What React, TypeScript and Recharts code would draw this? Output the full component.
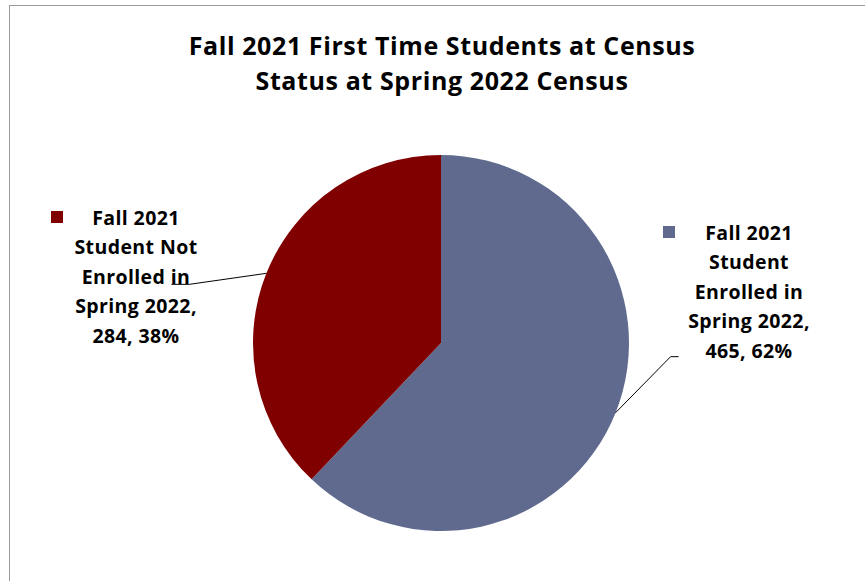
import React from "react";
import { PieChart, Pie, Cell } from "recharts";

const categories = [
  "Fall 2021 Student Enrolled in Spring 2022",
  "Fall 2021 Student Not Enrolled in Spring 2022",
];
const counts = [465, 284];
const labelLines = [
  ["Fall 2021", "Student", "Enrolled in", "Spring 2022,"],
  ["Fall 2021", "Student Not", "Enrolled in", "Spring 2022,"],
];
const titleLines = [
  "Fall 2021 First Time Students at Census",
  "Status at Spring 2022 Census",
];

const COLORS = ["#5F6A8E", "#800000"];
const FONT = "'Open Sans', 'Noto Sans', sans-serif";
const RAD = Math.PI / 180;

const data = categories.map((name, i) => ({ name, value: counts[i] }));
const total = counts.reduce((a, b) => a + b, 0);

const polar = (cx: number, cy: number, r: number, angle: number) => ({
  x: cx + r * Math.cos(-angle * RAD),
  y: cy + r * Math.sin(-angle * RAD),
});

// block placement for each label, relative to pie centre
const BLOCKS = [
  { dx: 308, dy: -111, sq: 86, line: [55, -56, 8] },
  { dx: -305, dy: -126, sq: 85, line: [-77, 11, -18] },
];

const renderLabel = (props: any) => {
  const { cx, cy, midAngle, outerRadius, index, value } = props;
  const b = BLOCKS[index];
  const bx = cx + b.dx;
  const by = cy + b.dy;
  const lines = [
    ...labelLines[index],
    `${value}, ${Math.round((value / total) * 100)}%`,
  ];
  const a = polar(cx, cy, outerRadius, midAngle);
  const bend = { x: a.x + b.line[0], y: a.y + b.line[1] };
  const end = { x: bend.x + b.line[2], y: bend.y };
  return (
    <g>
      <polyline
        points={`${a.x},${a.y} ${bend.x},${bend.y} ${end.x},${end.y}`}
        fill="none"
        stroke="#000"
        strokeWidth={1}
      />
      <rect
        x={bx - b.sq}
        y={by - 6}
        width={12}
        height={12}
        fill={COLORS[index]}
      />
      {lines.map((t, k) => (
        <text
          key={k}
          x={bx}
          y={by + k * 29.5}
          textAnchor="middle"
          dominantBaseline="central"
          fontFamily={FONT}
          fontWeight={700}
          fontSize={19.5}
          letterSpacing={0.4}
          fill="#000"
        >
          {t}
        </text>
      ))}
    </g>
  );
};

export default function App() {
  return (
    <div
      style={{
        position: "absolute",
        left: 0,
        top: 0,
        width: 865,
        height: 581,
        overflow: "hidden",
        background: "#fff",
      }}
    >
      <div
        style={{
          position: "absolute",
          left: 9,
          top: 5,
          width: 900,
          height: 620,
          border: "1.5px solid #9a9a9a",
          boxSizing: "border-box",
        }}
      />
      <PieChart
        width={865}
        height={581}
        margin={{ top: 0, right: 0, bottom: 0, left: 0 }}
        style={{ position: "absolute", left: 0, top: 0 }}
      >
        <text
          x={442}
          y={45}
          textAnchor="middle"
          dominantBaseline="central"
          fontFamily={FONT}
          fontWeight={700}
          fontSize={25}
          letterSpacing={0.6}
          fill="#000"
        >
          {titleLines[0]}
        </text>
        <text
          x={442}
          y={80}
          textAnchor="middle"
          dominantBaseline="central"
          fontFamily={FONT}
          fontWeight={700}
          fontSize={25}
          letterSpacing={0.6}
          fill="#000"
        >
          {titleLines[1]}
        </text>
        <Pie
          data={data}
          dataKey="value"
          nameKey="name"
          cx={441}
          cy={343}
          outerRadius={188}
          startAngle={90}
          endAngle={-270}
          stroke="none"
          label={renderLabel}
          labelLine={false}
          isAnimationActive={false}
        >
          {data.map((d, i) => (
            <Cell key={d.name} fill={COLORS[i]} />
          ))}
        </Pie>
      </PieChart>
    </div>
  );
}
